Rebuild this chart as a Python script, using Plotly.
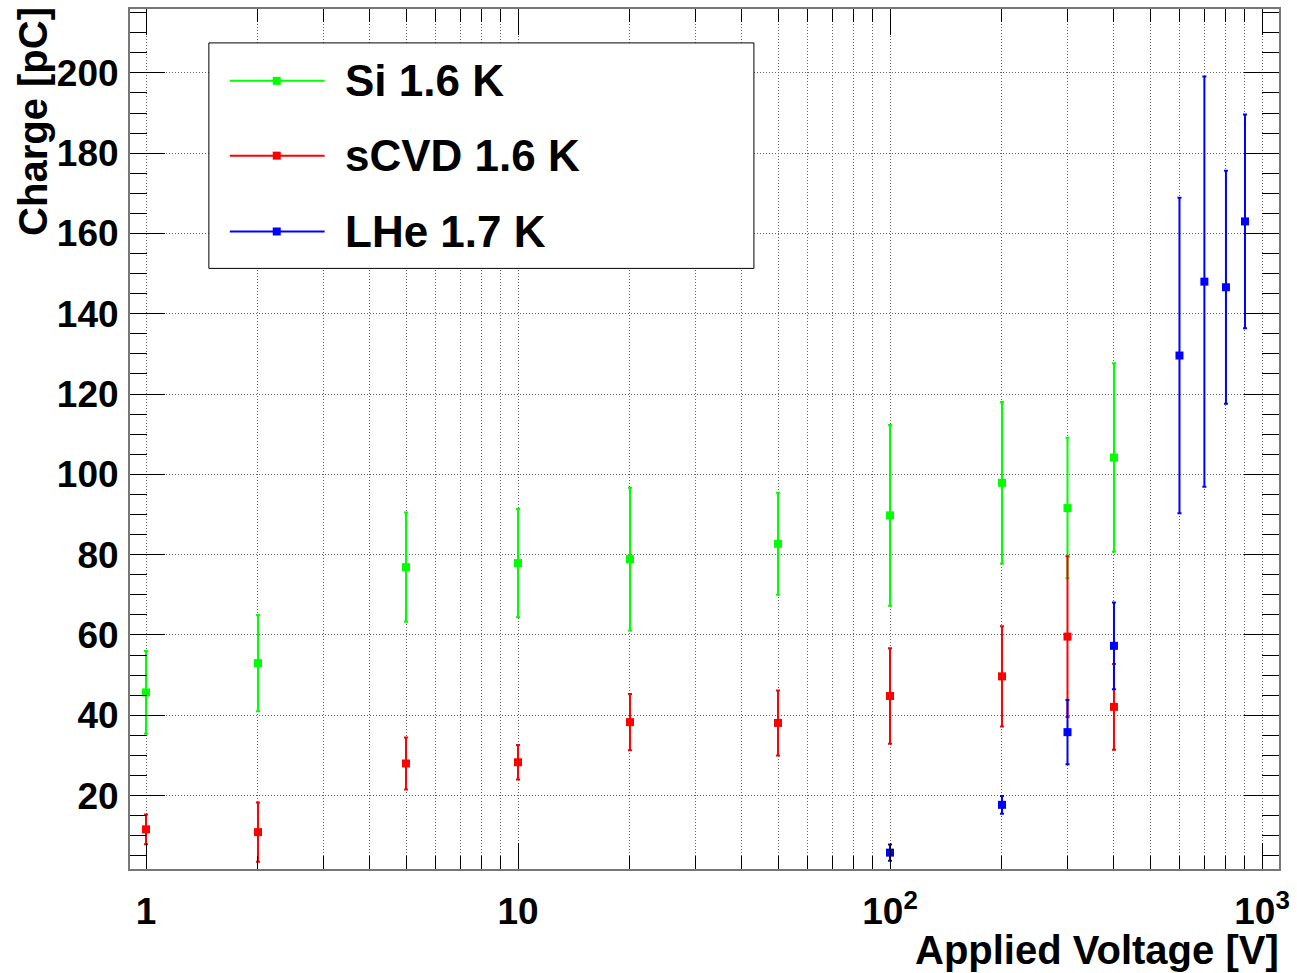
import plotly.graph_objects as go

# Applied voltage [V] and collected charge [pC] with symmetric errors
si_voltage = [1, 2, 5, 10, 20, 50, 100, 200, 300, 400]
si_charge = [45.7, 53.0, 76.9, 77.9, 78.9, 82.7, 89.8, 97.9, 91.6, 104.2]
si_error = [10.3, 12.0, 13.6, 13.5, 17.8, 12.7, 22.5, 20.1, 17.5, 23.5]

scvd_voltage = [1, 2, 5, 10, 20, 50, 100, 200, 300, 400]
scvd_charge = [11.6, 10.9, 28.0, 28.3, 38.3, 38.1, 44.8, 49.7, 59.6, 42.1]
scvd_error = [3.7, 7.4, 6.5, 4.3, 7.0, 8.1, 11.9, 12.5, 20.0, 10.7]

lhe_voltage = [100, 200, 300, 400, 600, 700, 800, 900]
lhe_charge = [5.8, 17.7, 35.8, 57.3, 129.6, 148.0, 146.6, 163.0]
lhe_error = [2.0, 2.2, 8.0, 10.8, 39.3, 51.1, 29.0, 26.6]

series_names = ["Si 1.6 K", "sCVD 1.6 K", "LHe 1.7 K"]
series_colors = ["#00ff00", "#ff0000", "#0000ff"]

x_major_vals = [1, 10, 100, 1000]
x_major_text = ["1", "10", "10<sup>2</sup>", "10<sup>3</sup>"]
x_minor_vals = [m * d for d in (1, 10, 100) for m in range(2, 10)]
y_major_vals = list(range(20, 201, 20))

FONT = "Liberation Sans, Arial, Helvetica, sans-serif"

W, H = 1297, 973
ML, MR, MT, MB = 130, 16, 7, 104
PW, PH = W - ML - MR, H - MT - MB


def px_x(p):
    return (p - ML) / PW


def px_y(p):
    return (H - MB - p) / PH


fig = go.Figure()

datasets = [
    (si_voltage, si_charge, si_error),
    (scvd_voltage, scvd_charge, scvd_error),
    (lhe_voltage, lhe_charge, lhe_error),
]
for (vx, vy, ve), name, color in zip(datasets, series_names, series_colors):
    fig.add_trace(go.Scatter(
        x=vx, y=vy, name=name, mode="markers",
        marker=dict(symbol="square", size=8, color=color, line=dict(width=0)),
        error_y=dict(type="data", array=ve, symmetric=True,
                     color=color, thickness=2, width=2),
        showlegend=False,
    ))

# Boxed legend in the upper left of the frame
shapes = [dict(type="rect", xref="paper", yref="paper",
               x0=px_x(209), x1=px_x(755), y0=px_y(267), y1=px_y(41),
               line=dict(color="black", width=1), fillcolor="white", layer="above")]
annotations = []
row_y = [79, 154, 230]
for name, color, ry in zip(series_names, series_colors, row_y):
    shapes.append(dict(type="line", xref="paper", yref="paper",
                       x0=px_x(230), x1=px_x(325), y0=px_y(ry), y1=px_y(ry),
                       line=dict(color=color, width=2), layer="above"))
    shapes.append(dict(type="rect", xref="paper", yref="paper",
                       x0=px_x(273), x1=px_x(281), y0=px_y(ry + 4), y1=px_y(ry - 4),
                       line=dict(width=0), fillcolor=color, layer="above"))
    annotations.append(dict(text=name, xref="paper", yref="paper",
                            x=px_x(343), y=px_y(ry), xanchor="left", yanchor="middle",
                            showarrow=False,
                            font=dict(family=FONT, size=44, color="black", weight="bold")))

# Axis titles, right/top aligned
annotations.append(dict(text="Applied Voltage [V]", xref="paper", yref="paper",
                        x=1.0, y=px_y(950), xanchor="right", yanchor="middle",
                        xshift=2, showarrow=False,
                        font=dict(family=FONT, size=40, color="black", weight="bold")))
annotations.append(dict(text="Charge [pC]", xref="paper", yref="paper",
                        x=px_x(33), y=px_y(120), xanchor="center", yanchor="middle",
                        textangle=-90, showarrow=False,
                        font=dict(family=FONT, size=40, color="black", weight="bold")))

grid_color = "#666666"
grid_dash = "1px,2px"
fig.update_xaxes(
    type="log", range=[-0.043, 3.0457],
    tickmode="array", tickvals=x_major_vals, ticktext=x_major_text,
    ticks="inside", ticklen=26, tickwidth=1, tickcolor="black",
    showline=True, linecolor="#777777", linewidth=2, mirror="ticks",
    showgrid=True, gridcolor=grid_color, gridwidth=1, griddash=grid_dash,
    zeroline=False,
    minor=dict(tickmode="array", tickvals=x_minor_vals, ticks="inside",
               ticklen=13, tickwidth=1, tickcolor="black",
               showgrid=True, gridcolor=grid_color, gridwidth=1, griddash=grid_dash),
    tickfont=dict(family=FONT, size=37, color="black", weight="bold"),
    ticklabelstandoff=9,
)
fig.update_yaxes(
    range=[1.72, 215.9],
    tickmode="array", tickvals=y_major_vals,
    ticks="inside", ticklen=35, tickwidth=1, tickcolor="black",
    showline=True, linecolor="#777777", linewidth=2, mirror="ticks",
    showgrid=True, gridcolor=grid_color, gridwidth=1, griddash=grid_dash,
    zeroline=False,
    minor=dict(dtick=5, tick0=0, ticks="inside", ticklen=17, tickwidth=1,
               tickcolor="black", showgrid=False),
    tickfont=dict(family=FONT, size=37, color="black", weight="bold"),
    ticklabelstandoff=2,
)

fig.update_layout(
    width=W, height=H, autosize=False,
    margin=dict(l=ML, r=MR, t=MT, b=MB, pad=0),
    paper_bgcolor="white", plot_bgcolor="white",
    showlegend=False,
    shapes=shapes, annotations=annotations,
)

fig.write_html("out.html")
